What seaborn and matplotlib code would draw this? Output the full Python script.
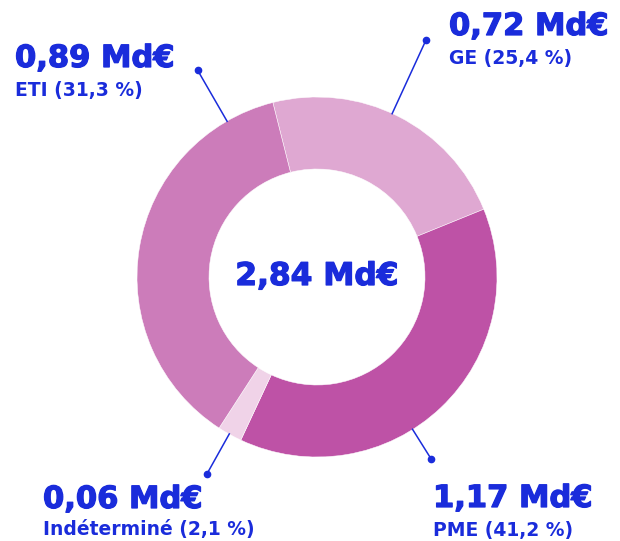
import numpy as np
import matplotlib
matplotlib.use("Agg")
import matplotlib.pyplot as plt
import matplotlib.patheffects as pe
import seaborn as sns

# ---- data ----
categories = ["GE", "PME", "Indéterminé", "ETI"]
amount_labels = ["0,72", "1,17", "0,06", "0,89"]      # Md€
percent_labels = ["25,4", "41,2", "2,1", "31,3"]      # %
arc_shares = [22.8, 38.1, 2.2, 36.9]                  # angular share of each ring slice as drawn
total_label = "2,84"

# ---- styles / layout ----
slice_colors = ["#DFA8D2", "#BE52A6", "#F0D3E8", "#CC7CBA"]
text_color = "#1A2CDB"
W, H = 620, 541
cx, cy = 317, H - 277
r_out, ring = 180, 72
start_deg = 104.2  # matplotlib angle (ccw from +x) where the first slice starts

# label anchor (left x, first-line baseline, second-line baseline; pixel rows from top)
label_pos = {
    "ETI": (15, 67, 96),
    "GE": (449, 35, 64),
    "Indéterminé": (43, 508, 535),
    "PME": (433, 507, 536),
}
# leader lines: angle clockwise from top (deg), end radius
leaders = {
    "ETI": (-30.0, 239),
    "GE": (24.7, 261),
    "Indéterminé": (209.2, 226),
    "PME": (147.9, 215),
}

sns.set_theme(style="white")
plt.rcParams["font.family"] = ["DejaVu Sans"]
palette = sns.color_palette(slice_colors)

fig = plt.figure(figsize=(W / 100, H / 100), dpi=100)
ax = fig.add_axes([0, 0, 1, 1])

ax.pie(arc_shares, colors=palette, startangle=start_deg, counterclock=False,
       radius=r_out, center=(cx, cy),
       wedgeprops=dict(width=ring, edgecolor="white", linewidth=0.35))
ax.set_xlim(0, W)
ax.set_ylim(0, H)
ax.set_aspect("equal")
ax.axis("off")

for cat in categories:
    th, r_end = leaders[cat]
    t = np.deg2rad(th)
    xs = [cx + (r_out - 1) * np.sin(t), cx + r_end * np.sin(t)]
    ys = [cy + (r_out - 1) * np.cos(t), cy + r_end * np.cos(t)]
    ax.plot(xs, ys, color=text_color, lw=1.1, zorder=3, solid_capstyle="butt")
    ax.plot(xs[1], ys[1], "o", color=text_color, ms=4.5, zorder=4)

heavy = [pe.withStroke(linewidth=0.9, foreground=text_color)]
for cat, amt, pct in zip(categories, amount_labels, percent_labels):
    x, b1, b2 = label_pos[cat]
    ax.text(x, H - b1, f"{amt} Md€", color=text_color, fontsize=22,
            fontweight="bold", ha="left", va="baseline", path_effects=heavy)
    ax.text(x, H - b2, f"{cat} ({pct} %)", color=text_color, fontsize=13.5,
            fontweight="bold", ha="left", va="baseline")

ax.text(cx, H - 285, f"{total_label} Md€", color=text_color, fontsize=22.5,
        fontweight="bold", ha="center", va="baseline", path_effects=heavy)

fig.savefig("out.png", dpi=100)
